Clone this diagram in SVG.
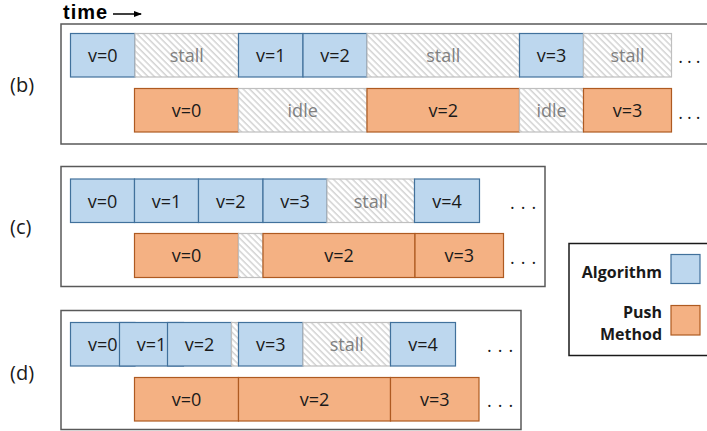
<svg xmlns="http://www.w3.org/2000/svg" width="707" height="431" viewBox="0 0 707 431">
<defs>
<pattern id="hatch" width="4.5" height="4.5" patternUnits="userSpaceOnUse" patternTransform="rotate(-45)">
<rect width="4.5" height="4.5" fill="#ffffff"/>
<line x1="1" y1="0" x2="1" y2="4.5" stroke="#c4c4c4" stroke-width="1.1"/>
</pattern>
<marker id="arr" markerWidth="8" markerHeight="8" refX="7" refY="4" orient="auto" markerUnits="userSpaceOnUse">
<path d="M0,1 L8,4 L0,7 Z" fill="#000"/>
</marker>
</defs>
<style>
.panel{fill:#ffffff;stroke:#595959;stroke-width:1.5}
.alg{fill:#BDD7EE;stroke:#41719C;stroke-width:1.2}
.push{fill:#F4B183;stroke:#AE5A21;stroke-width:1.2}
.gap{fill:url(#hatch);stroke:#BFBFBF;stroke-width:1.2}
.t{font-family:"Open Sans","Liberation Sans",sans-serif;font-size:18px;fill:#1a1a1a;text-anchor:middle}
.g{fill:#808080}
.dots{font-family:"Open Sans","Liberation Sans",sans-serif;font-size:18px;fill:#1a1a1a;letter-spacing:6px}
.lab{font-family:"Open Sans","Liberation Sans",sans-serif;font-size:20px;fill:#1a1a1a}
.leg{font-family:"Open Sans","Liberation Sans",sans-serif;font-size:16px;font-weight:bold;fill:#1a1a1a;text-anchor:end}
</style>
<rect width="707" height="431" fill="#ffffff"/>

<text x="63" y="18.5" style="font-family:'Liberation Sans',Arial,sans-serif;font-size:20px;font-weight:bold;letter-spacing:1px;fill:#000">time</text>
<g id="connectors">
<line x1="113" y1="14" x2="141" y2="14" stroke="#000" stroke-width="1.5" marker-end="url(#arr)"/>
</g>

<!-- panel b -->
<g id="panel-b">
<rect class="panel" x="61" y="24" width="660" height="120"/>
<text class="lab" x="10" y="92">(b)</text>
<g id="b-a0"><rect class="alg" x="70.5" y="33.5" width="64.5" height="43.5"/><text class="t" x="102.7" y="62">v=0</text></g>
<g id="b-s1"><rect class="gap" x="135" y="33.5" width="103.5" height="43.5"/><text class="t g" x="186.7" y="62">stall</text></g>
<g id="b-a1"><rect class="alg" x="238.5" y="33.5" width="64.5" height="43.5"/><text class="t" x="270.7" y="62">v=1</text></g>
<g id="b-a2"><rect class="alg" x="303" y="33.5" width="64" height="43.5"/><text class="t" x="335" y="62">v=2</text></g>
<g id="b-s2"><rect class="gap" x="367" y="33.5" width="152.5" height="43.5"/><text class="t g" x="443.2" y="62">stall</text></g>
<g id="b-a3"><rect class="alg" x="519.5" y="33.5" width="64" height="43.5"/><text class="t" x="551.5" y="62">v=3</text></g>
<g id="b-s3"><rect class="gap" x="583.5" y="33.5" width="88" height="43.5"/><text class="t g" x="627.5" y="62">stall</text></g>
<text class="dots" x="678.3" y="62.5" style="letter-spacing:4px">...</text>
<g id="b-p0"><rect class="push" x="134.5" y="88.5" width="104" height="43.5"/><text class="t" x="186.5" y="117">v=0</text></g>
<g id="b-i1"><rect class="gap" x="238.5" y="88.5" width="128.5" height="43.5"/><text class="t g" x="302.7" y="117">idle</text></g>
<g id="b-p2"><rect class="push" x="367" y="88.5" width="152.5" height="43.5"/><text class="t" x="443.2" y="117">v=2</text></g>
<g id="b-i2"><rect class="gap" x="519.5" y="88.5" width="64" height="43.5"/><text class="t g" x="551.5" y="117">idle</text></g>
<g id="b-p3"><rect class="push" x="583.5" y="88.5" width="88" height="43.5"/><text class="t" x="627.5" y="117">v=3</text></g>
<text class="dots" x="678.3" y="118.5" style="letter-spacing:4px">...</text>
</g>

<!-- panel c -->
<g id="panel-c">
<rect class="panel" x="61" y="166.5" width="484" height="120"/>
<text class="lab" x="10" y="234">(c)</text>
<g id="c-a0"><rect class="alg" x="70.5" y="179" width="64" height="43.5"/><text class="t" x="102.5" y="207.5">v=0</text></g>
<g id="c-a1"><rect class="alg" x="134.5" y="179" width="64" height="43.5"/><text class="t" x="166.5" y="207.5">v=1</text></g>
<g id="c-a2"><rect class="alg" x="198.5" y="179" width="64.5" height="43.5"/><text class="t" x="230.7" y="207.5">v=2</text></g>
<g id="c-a3"><rect class="alg" x="263" y="179" width="64" height="43.5"/><text class="t" x="295" y="207.5">v=3</text></g>
<g id="c-s1"><rect class="gap" x="327" y="179" width="87.5" height="43.5"/><text class="t g" x="370.7" y="207.5">stall</text></g>
<g id="c-a4"><rect class="alg" x="414.5" y="179" width="65" height="43.5"/><text class="t" x="447" y="207.5">v=4</text></g>
<text class="dots" x="510" y="208.5">...</text>
<g id="c-p0"><rect class="push" x="134.5" y="233.5" width="104" height="44"/><text class="t" x="186.5" y="262">v=0</text></g>
<g id="c-i1"><rect class="gap" x="238.5" y="233.5" width="24.5" height="44"/></g>
<g id="c-p2"><rect class="push" x="263" y="233.5" width="152" height="44"/><text class="t" x="339" y="262">v=2</text></g>
<g id="c-p3"><rect class="push" x="415" y="233.5" width="88.5" height="44"/><text class="t" x="459.2" y="262">v=3</text></g>
<text class="dots" x="510" y="263.5">...</text>
</g>

<!-- panel d -->
<g id="panel-d">
<rect class="panel" x="61" y="310.5" width="460" height="119"/>
<text class="lab" x="10" y="380">(d)</text>
<g id="d-a0"><rect class="alg" x="70.5" y="322.5" width="64.5" height="43.5"/><text class="t" x="102.7" y="351">v=0</text></g>
<g id="d-a1"><rect class="alg" x="119.5" y="322.5" width="64" height="43.5"/><text class="t" x="151.5" y="351">v=1</text></g>
<g id="d-a2"><rect class="alg" x="167.5" y="322.5" width="64" height="43.5"/><text class="t" x="199.5" y="351">v=2</text></g>
<g id="d-s0"><rect class="gap" x="231.5" y="322.5" width="7" height="43.5"/></g>
<g id="d-a3"><rect class="alg" x="238.5" y="322.5" width="64.5" height="43.5"/><text class="t" x="270.7" y="351">v=3</text></g>
<g id="d-s1"><rect class="gap" x="303" y="322.5" width="87.5" height="43.5"/><text class="t g" x="346.7" y="351">stall</text></g>
<g id="d-a4"><rect class="alg" x="390.5" y="322.5" width="65" height="43.5"/><text class="t" x="423" y="351">v=4</text></g>
<text class="dots" x="487" y="352">...</text>
<g id="d-p0"><rect class="push" x="134.5" y="377.5" width="104" height="43.5"/><text class="t" x="186.5" y="406">v=0</text></g>
<g id="d-p2"><rect class="push" x="238.5" y="377.5" width="152" height="43.5"/><text class="t" x="314.5" y="406">v=2</text></g>
<g id="d-p3"><rect class="push" x="390.5" y="377.5" width="88.5" height="43.5"/><text class="t" x="434.7" y="406">v=3</text></g>
<text class="dots" x="487" y="407">...</text>
</g>

<!-- legend -->
<g id="legend">
<rect x="569" y="243.5" width="150" height="112" fill="#ffffff" stroke="#1a1a1a" stroke-width="1.5"/>
<text class="leg" x="662" y="277.5">Algorithm</text>
<rect class="alg" x="671" y="254.5" width="29" height="29"/>
<text class="leg" x="662" y="317.5">Push</text>
<text class="leg" x="662" y="340">Method</text>
<rect class="push" x="671" y="305.5" width="29" height="29.5"/>
</g>
</svg>
